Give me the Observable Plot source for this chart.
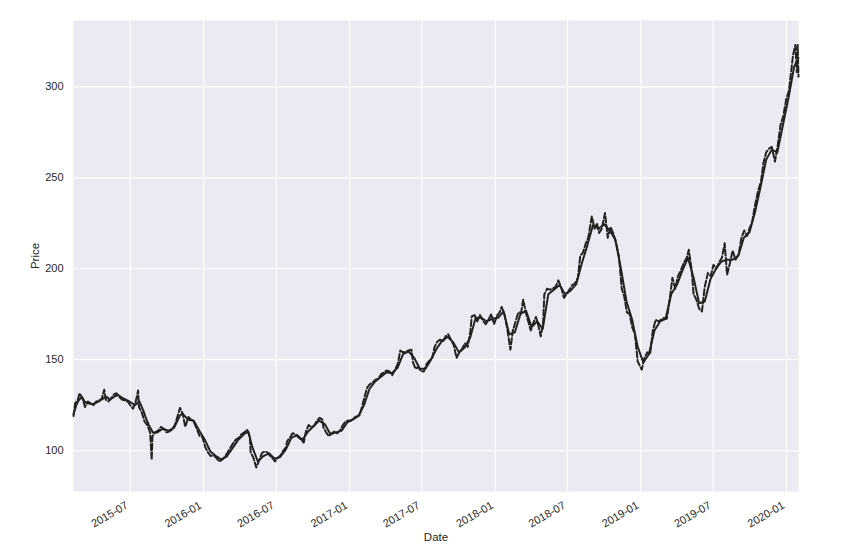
<!DOCTYPE html>
<html>
<head>
<meta charset="utf-8">
<script src="https://cdn.jsdelivr.net/npm/d3@7"></script>
<script src="https://cdn.jsdelivr.net/npm/@observablehq/plot@0.6"></script>
<style>
  html, body { margin: 0; padding: 0; background: #ffffff; }
  #chart svg { display: block; }
</style>
</head>
<body>
<div id="chart"></div>
<script>
// Closing price (dashed line)
const closeDates = [
  "2015-02-09","2015-02-13","2015-02-20","2015-02-24","2015-03-03","2015-03-10","2015-03-17","2015-03-24","2015-03-31",
  "2015-04-07","2015-04-14","2015-04-21","2015-04-27","2015-05-01","2015-05-08","2015-05-15","2015-05-22","2015-05-28",
  "2015-06-04","2015-06-11","2015-06-18","2015-06-25","2015-07-01","2015-07-08","2015-07-15","2015-07-21","2015-07-23",
  "2015-07-30","2015-08-06","2015-08-13","2015-08-20","2015-08-24","2015-08-26","2015-09-02","2015-09-09","2015-09-16",
  "2015-09-23","2015-09-30","2015-10-07","2015-10-14","2015-10-21","2015-10-28","2015-11-03","2015-11-10","2015-11-16",
  "2015-11-24","2015-12-01","2015-12-08","2015-12-15","2015-12-22","2015-12-29",
  "2016-01-05","2016-01-12","2016-01-19","2016-01-26","2016-02-02","2016-02-09","2016-02-16","2016-02-23","2016-03-01",
  "2016-03-08","2016-03-15","2016-03-22","2016-03-29","2016-04-05","2016-04-12","2016-04-19","2016-04-26","2016-04-28",
  "2016-05-05","2016-05-12","2016-05-19","2016-05-26","2016-06-02","2016-06-09","2016-06-16","2016-06-23","2016-06-28",
  "2016-07-05","2016-07-12","2016-07-19","2016-07-26","2016-07-28","2016-08-04","2016-08-11","2016-08-18","2016-08-25",
  "2016-09-01","2016-09-08","2016-09-13","2016-09-20","2016-09-27","2016-10-04","2016-10-11","2016-10-18","2016-10-25",
  "2016-10-27","2016-11-03","2016-11-10","2016-11-17","2016-11-24","2016-12-01","2016-12-08","2016-12-15","2016-12-22",
  "2016-12-29",
  "2017-01-05","2017-01-12","2017-01-19","2017-01-26","2017-02-01","2017-02-08","2017-02-14","2017-02-21","2017-02-28",
  "2017-03-07","2017-03-14","2017-03-21","2017-03-28","2017-04-04","2017-04-11","2017-04-18","2017-04-25","2017-05-02",
  "2017-05-08","2017-05-15","2017-05-22","2017-05-29","2017-06-05","2017-06-09","2017-06-15","2017-06-22","2017-06-29",
  "2017-07-06","2017-07-13","2017-07-20","2017-07-27","2017-08-02","2017-08-09","2017-08-16","2017-08-23","2017-08-30",
  "2017-09-05","2017-09-12","2017-09-19","2017-09-26","2017-10-03","2017-10-10","2017-10-17","2017-10-24","2017-10-31",
  "2017-11-03","2017-11-10","2017-11-17","2017-11-24","2017-12-01","2017-12-08","2017-12-15","2017-12-22","2017-12-29",
  "2018-01-05","2018-01-12","2018-01-17","2018-01-24","2018-01-31","2018-02-08","2018-02-14","2018-02-21","2018-02-28",
  "2018-03-07","2018-03-12","2018-03-19","2018-03-26","2018-03-31","2018-04-06","2018-04-13","2018-04-20","2018-04-25",
  "2018-05-01","2018-05-04","2018-05-11","2018-05-18","2018-05-25","2018-06-01","2018-06-08","2018-06-15","2018-06-22",
  "2018-06-29","2018-07-06","2018-07-13","2018-07-20","2018-07-27","2018-08-02","2018-08-09","2018-08-16","2018-08-22",
  "2018-08-31","2018-09-07","2018-09-13","2018-09-18","2018-09-25","2018-10-03","2018-10-10","2018-10-17","2018-10-25",
  "2018-11-01","2018-11-07","2018-11-14","2018-11-20","2018-11-27","2018-12-04","2018-12-10","2018-12-17","2018-12-24",
  "2019-01-03","2019-01-10","2019-01-17","2019-01-24","2019-01-31","2019-02-07","2019-02-14","2019-02-21","2019-02-28",
  "2019-03-07","2019-03-14","2019-03-21","2019-03-28","2019-04-04","2019-04-11","2019-04-18","2019-04-26","2019-05-01",
  "2019-05-08","2019-05-13","2019-05-20","2019-05-27","2019-06-03","2019-06-10","2019-06-18","2019-06-25","2019-07-02",
  "2019-07-09","2019-07-16","2019-07-23","2019-07-30","2019-08-05","2019-08-12","2019-08-19","2019-08-26","2019-09-03",
  "2019-09-10","2019-09-17","2019-09-24","2019-09-30","2019-10-07","2019-10-14","2019-10-22","2019-10-29","2019-11-04",
  "2019-11-11","2019-11-18","2019-11-25","2019-12-03","2019-12-10","2019-12-17","2019-12-24","2019-12-31",
  "2020-01-07","2020-01-14","2020-01-17","2020-01-23","2020-01-27","2020-01-29","2020-01-31"
];
const closeValues = [
  119,126,128,131.5,129,124,127,126,125,
  127,127.5,128.5,133.5,128,127,129,131,131.5,
  129.5,128,127.5,127,125,123,127,133,124,
  121,116,114,110,95,108,110,111,113,
  112,110,110.5,111.5,114,119,123.5,120,113,
  118.5,117,115.5,112,108,107.5,
  102,99,97,97.5,96,94,95,96.5,99,
  101.5,104,106,107,109,110,111.5,107.5,99,
  96,90.7,94.5,98.5,99.6,99,97,95.5,94,
  96,97.5,100,102,105,107,109.5,109,107.5,
  106,104.4,110,114,113,113.5,116.5,118,117,
  113,110,107.9,109.5,110.5,109.5,111,114,116,
  116.5,
  116.5,118,118.8,119.5,124,130,134.6,136.5,137.5,
  139,139.5,142,143,144,143.5,141.5,144.5,148,
  155,154,154.5,155,155.5,148.5,145,146,143.6,
  143.5,147.5,149.5,151,157,160,161,160,163,
  164,161,158,151,154,156,159,157,166,
  173.8,174.5,171,174.5,171.5,169.5,172,175,169.5,
  174,176,179,175,167,155.5,166,171,176,
  176,183,175.5,170,166,170,173.5,168,162.8,
  170,186,189,188.5,189,190,193.6,190,184,
  186,188.5,191,192,195,207,209,214,217,
  228.8,222,225,219.6,222,230.6,217,223,218.7,
  213,206.8,189,185,176,175,168,164,149,
  144.5,151,154,153,166,172,171,172,173,
  172.5,183,195,189,196,199,203,206,210.4,
  200,186,183,178,176.5,190,197.6,196,202.2,
  200,203.5,206,214,196.7,203,210,205,208,
  217,221,218,222,226,235,243,248,258,
  264,266,267,258.9,268,279,284,293,
  298,311,317,323,308,323,305.6
];
// Smoothed price (solid line)
const smoothDates = [
  "2015-02-09","2015-02-16","2015-02-23","2015-03-02","2015-03-09","2015-03-16","2015-03-30","2015-04-13","2015-04-27",
  "2015-05-04","2015-05-11","2015-05-25","2015-06-01","2015-06-15","2015-06-29","2015-07-13","2015-07-24","2015-08-03",
  "2015-08-10","2015-08-17","2015-08-27","2015-09-07","2015-09-21","2015-10-05","2015-10-19","2015-11-02","2015-11-09",
  "2015-11-23","2015-12-07","2015-12-21",
  "2016-01-04","2016-01-18","2016-02-01","2016-02-15","2016-02-29","2016-03-14","2016-03-28","2016-04-11","2016-04-22",
  "2016-05-02","2016-05-16","2016-05-30","2016-06-13","2016-06-27","2016-07-11","2016-07-25","2016-08-08","2016-08-22",
  "2016-09-05","2016-09-19","2016-10-03","2016-10-17","2016-10-31","2016-11-14","2016-11-28","2016-12-12","2016-12-26",
  "2017-01-09","2017-01-23","2017-02-06","2017-02-20","2017-03-06","2017-03-20","2017-04-03","2017-04-17","2017-05-01",
  "2017-05-15","2017-05-29","2017-06-12","2017-06-26","2017-07-10","2017-07-24","2017-08-07","2017-08-21","2017-09-04",
  "2017-09-18","2017-10-02","2017-10-16","2017-10-30","2017-11-13","2017-11-27","2017-12-11","2017-12-25",
  "2018-01-08","2018-01-22","2018-02-05","2018-02-19","2018-03-05","2018-03-19","2018-04-02","2018-04-16","2018-04-30",
  "2018-05-14","2018-05-28","2018-06-11","2018-06-25","2018-07-09","2018-07-23","2018-08-06","2018-08-20","2018-09-03",
  "2018-09-17","2018-10-01","2018-10-15","2018-10-29","2018-11-12","2018-11-26","2018-12-10","2018-12-24",
  "2019-01-07","2019-01-21","2019-02-04","2019-02-18","2019-03-04","2019-03-18","2019-04-01","2019-04-15","2019-04-29",
  "2019-05-13","2019-05-27","2019-06-10","2019-06-24","2019-07-08","2019-07-22","2019-08-05","2019-08-19","2019-09-02",
  "2019-09-16","2019-09-30","2019-10-14","2019-10-28","2019-11-11","2019-11-25","2019-12-09","2019-12-23",
  "2020-01-06","2020-01-20","2020-01-31"
];
const smoothValues = [
  120,125,128,129.5,127,126,125.5,127,129,
  129.5,128,130,130.5,128.5,127,125,127,122,
  117.5,114,110,110,112,111,112.5,119,120.5,
  117,116.5,111,
  106,99.5,97,95,97,101.5,106,109,110.5,
  102,94,97,98.5,95.5,96.5,100.5,107,108.5,
  106,110.5,113.5,116.5,114.5,109,110,111,115.5,
  117,119,125,134,138,140.5,143,142.5,145.5,
  153,154.5,151,145,145,150,156,160.5,162.5,
  159.5,154,156.5,162,173,173,171,172.5,
  173,176.5,164,165,175,177,168,171,167,
  186,188.5,191,186,188,191.5,203,213,224,
  222,224.5,221,216,200,182,172,157,
  148.5,153,166,171,172.5,186,191,199,206,
  195,181,182,194,200,204,205,205,207,
  217,220,231,245,260,265.5,264,279,
  294,311,316
];
const xTicks = ["2015-07-01","2016-01-01","2016-07-01","2017-01-01","2017-07-01","2018-01-01","2018-07-01","2019-01-01","2019-07-01","2020-01-01"];
const yTicks = [100, 150, 200, 250, 300];

const parse = d3.utcParse("%Y-%m-%d");
const closeData = closeDates.map((d, i) => ({date: parse(d), value: closeValues[i]}));
const smoothData = smoothDates.map((d, i) => ({date: parse(d), value: smoothValues[i]}));
const xTickDates = xTicks.map(parse);

const ink = "#262626";
const chart = Plot.plot({
  width: 862,
  height: 557,
  marginLeft: 73,
  marginRight: 64,
  marginTop: 20,
  marginBottom: 66,
  style: {fontFamily: "'Liberation Sans', Arial, sans-serif", fontSize: "11px", color: ink, background: "#ffffff"},
  x: {type: "utc", domain: [parse("2015-02-09"), parse("2020-01-31")]},
  y: {domain: [77.5, 336.5]},
  marks: [
    Plot.frame({fill: "#eaeaf2", stroke: null}),
    Plot.ruleX(xTickDates, {stroke: "#ffffff", strokeWidth: 1.2}),
    Plot.ruleY(yTicks, {stroke: "#ffffff", strokeWidth: 1.2}),
    Plot.lineY(smoothData, {x: "date", y: "value", stroke: "#222222", strokeWidth: 2}),
    Plot.lineY(closeData, {x: "date", y: "value", stroke: "#222222", strokeWidth: 2, strokeDasharray: "6,2.5"}),
    Plot.axisX({ticks: xTickDates, tickFormat: d3.utcFormat("%Y-%m"), tickSize: 0, tickPadding: 10, tickRotate: -30, dx: -3, dy: 3, label: null, fill: ink, fontSize: 11}),
    Plot.axisY({ticks: yTicks, tickSize: 0, tickPadding: 10, label: null, fill: ink, fontSize: 11}),
    Plot.text(["Price"], {frameAnchor: "left", dx: -38, rotate: -90, textAnchor: "middle", lineAnchor: "middle", fill: ink, fontSize: 11.5}),
    Plot.text(["Date"], {frameAnchor: "bottom", dy: 46, textAnchor: "middle", lineAnchor: "middle", fill: ink, fontSize: 11.5})
  ]
});
document.getElementById("chart").appendChild(chart);
</script>
</body>
</html>
